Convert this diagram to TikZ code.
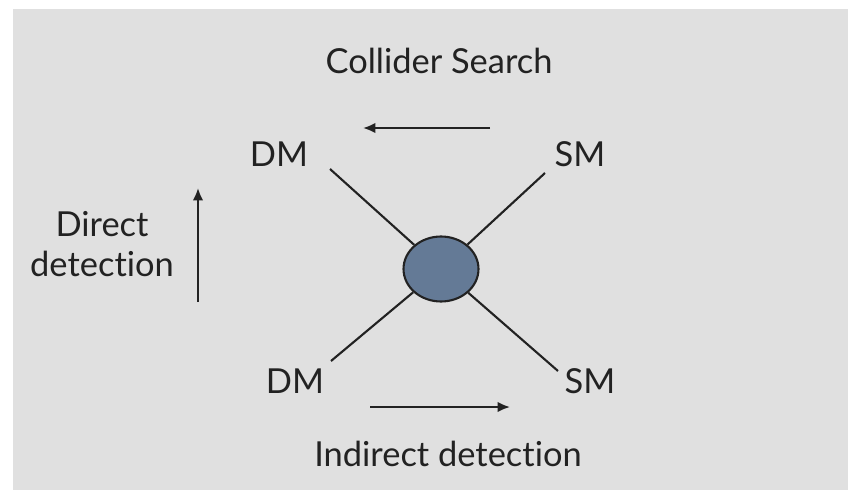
\documentclass[tikz,border=0pt]{standalone}
\usepackage{fontspec}
\setmainfont{Lato}[Ligatures=NoCommon]
\usetikzlibrary{positioning,shapes.geometric,arrows.meta}

\definecolor{slidegray}{RGB}{224,224,224}
\definecolor{blobblue}{RGB}{100,122,150}
\definecolor{inkgray}{RGB}{34,34,34}

\tikzset{
  txt/.style={text=inkgray, inner sep=0pt, font=\fontsize{19.6}{22.7}\selectfont},
  leg/.style={draw=inkgray, line width=1.2pt},
  flow/.style={draw=inkgray, line width=1.2pt, -{Latex[length=7pt,width=6pt]}}
}

\begin{document}
\begin{tikzpicture}[x=0.02cm, y=-0.02cm]

% Page and slide background
\useasboundingbox (0,0) rectangle (848,490);
\fill[slidegray] (13,9) rectangle (848,490);

% Particles
\node[txt, anchor=base] (dmtop) at (279,166) {DM};
\node[txt, anchor=base] (smtop) at (580,166) {SM};
\node[txt, anchor=base] (dmbot) at (295,393) {DM};
\node[txt, anchor=base] (smbot) at (590,393) {SM};

% Vertex
\node[ellipse, draw=inkgray, line width=1.2pt, fill=blobblue,
      minimum width=1.5cm, minimum height=1.3cm, inner sep=0pt] (blob) at (441,269) {};

% Legs
\coordinate (tl) at (330,169);
\coordinate (tr) at (545,173);
\coordinate (bl) at (331,361);
\coordinate (br) at (558,371);
\foreach \p in {tl,tr,bl,br} {
  \draw[leg] (blob) -- (\p);
}

% Processes
\node[txt, anchor=base] (collider) at (439,73) {Collider Search};
\node[txt, anchor=base] (indirect) at (448,466) {Indirect detection};
\node[txt, anchor=base, align=center] (direct) at (102,276) {Direct\\detection};

\coordinate (ca) at (490,128);
\coordinate (cb) at (363,128);
\coordinate (ia) at (370,407);
\coordinate (ib) at (510,407);
\coordinate (da) at (198,302);
\coordinate (db) at (198,188);
\draw[flow] (ca) -- (cb);
\draw[flow] (ia) -- (ib);
\draw[flow] (da) -- (db);

\end{tikzpicture}
\end{document}
